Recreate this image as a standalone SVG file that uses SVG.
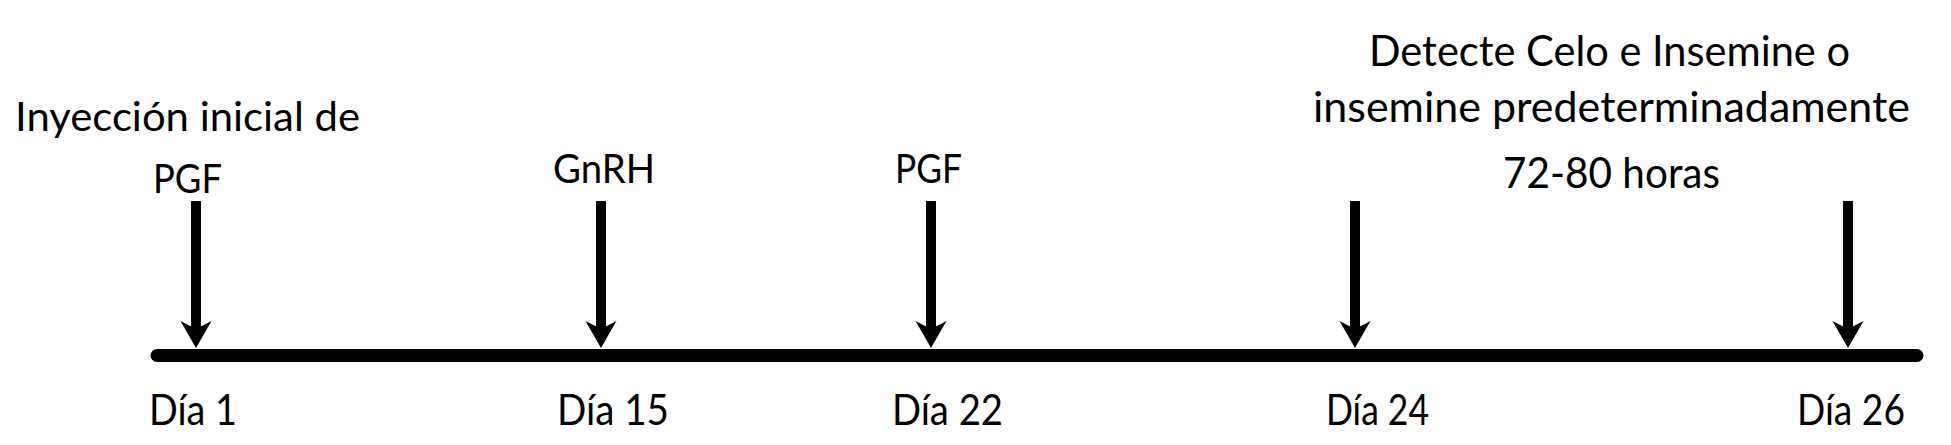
<svg xmlns="http://www.w3.org/2000/svg" width="1951" height="445" viewBox="0 0 1951 445">
  <style>
    text { font-family: Lato, "Liberation Sans", sans-serif; fill: #000; }
    .lbl { font-size: 41px; }
    .day { font-size: 42px; }
    .note { font-size: 43px; }
    .arrow { stroke: #000; stroke-width: 10; fill: none; marker-end: url(#ah); }
    .axis { stroke: #000; stroke-width: 13; stroke-linecap: round; fill: none; }
  </style>
  <defs>
    <marker id="ah" markerUnits="userSpaceOnUse" markerWidth="30" markerHeight="32" viewBox="-28 -16 30 32" refX="-13" refY="0" orient="auto" overflow="visible">
      <path d="M0,0 L-27,-15.5 L-19,0 L-27,15.5 Z" fill="#000"/>
    </marker>
  </defs>
  <rect width="1951" height="445" fill="#fff"/>
  <g id="connectors">
    <line class="axis" x1="157" y1="355.5" x2="1917" y2="355.5"/>
    <line class="arrow" x1="196" y1="201" x2="196" y2="335"/>
    <line class="arrow" x1="601" y1="201" x2="601" y2="335"/>
    <line class="arrow" x1="931" y1="201" x2="931" y2="335"/>
    <line class="arrow" x1="1355" y1="201" x2="1355" y2="335"/>
    <line class="arrow" x1="1848" y1="201" x2="1848" y2="335"/>
  </g>
  <g id="node-dia1">
    <text class="lbl" x="15" y="131" textLength="345" lengthAdjust="spacingAndGlyphs">Inyección inicial de</text>
    <text class="lbl" x="153" y="193" textLength="69" lengthAdjust="spacingAndGlyphs">PGF</text>
    <text class="day" x="149" y="425" textLength="88" lengthAdjust="spacingAndGlyphs">Día 1</text>
  </g>
  <g id="node-dia15">
    <text class="lbl" x="553" y="183" textLength="102" lengthAdjust="spacingAndGlyphs">GnRH</text>
    <text class="day" x="557" y="425" textLength="112" lengthAdjust="spacingAndGlyphs">Día 15</text>
  </g>
  <g id="node-dia22">
    <text class="lbl" x="895" y="183" textLength="67" lengthAdjust="spacingAndGlyphs">PGF</text>
    <text class="day" x="892" y="425" textLength="111" lengthAdjust="spacingAndGlyphs">Día 22</text>
  </g>
  <g id="node-dia24">
    <text class="note" x="1369" y="66" textLength="481" lengthAdjust="spacingAndGlyphs">Detecte Celo e Insemine o</text>
    <text class="note" x="1313" y="122" textLength="597" lengthAdjust="spacingAndGlyphs">insemine predeterminadamente</text>
    <text class="note" x="1503" y="188" textLength="217" lengthAdjust="spacingAndGlyphs">72-80 horas</text>
    <text class="day" x="1326" y="425" textLength="103" lengthAdjust="spacingAndGlyphs">Día 24</text>
  </g>
  <g id="node-dia26">
    <text class="day" x="1797" y="425" textLength="108" lengthAdjust="spacingAndGlyphs">Día 26</text>
  </g>
</svg>
